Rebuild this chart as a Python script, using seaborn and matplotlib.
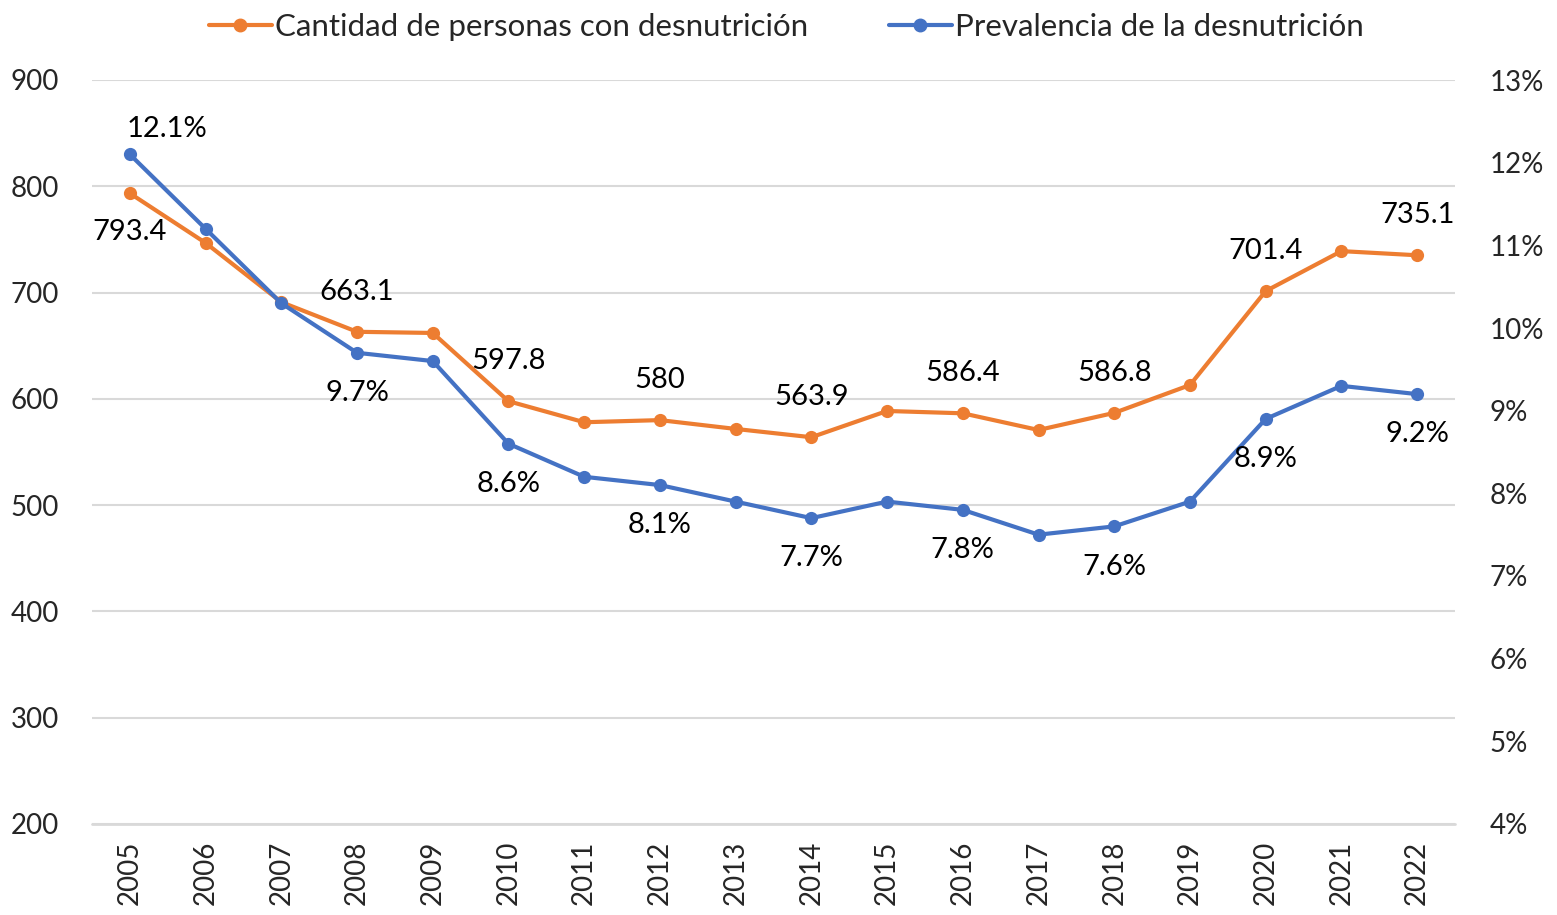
import pandas as pd
import numpy as np
import matplotlib.pyplot as plt
import seaborn as sns
from matplotlib.lines import Line2D

# Data
years = [str(y) for y in range(2005, 2023)]
personas = [793.4, 746.7, 691.0, 663.1, 662.0, 597.8, 578.0, 580.0, 571.7, 563.9,
            588.6, 586.4, 570.7, 586.8, 613.0, 701.4, 739.0, 735.1]
prevalencia = [12.1, 11.2, 10.3, 9.7, 9.6, 8.6, 8.2, 8.1, 7.9, 7.7,
               7.9, 7.8, 7.5, 7.6, 7.9, 8.9, 9.3, 9.2]
label_years = ['2005', '2008', '2010', '2012', '2014', '2016', '2018', '2020', '2022']

orange = '#ED7D31'
blue = '#4472C4'
grid_col = '#D9D9D9'

sns.set_style('white')
plt.rcParams['font.family'] = ['Lato', 'DejaVu Sans']

df = pd.DataFrame({'x': np.arange(len(years)), 'year': years,
                   'personas': personas, 'prevalencia': prevalencia})

fig = plt.figure(figsize=(15.57, 9.15), dpi=100)
ax = fig.add_axes([92 / 1557, 1 - 824 / 915, (1455 - 92) / 1557, (824 - 80) / 915])
ax2 = ax.twinx()

sns.lineplot(data=df, x='x', y='personas', ax=ax, color=orange, linewidth=3,
             marker='o', markersize=9.5, markeredgewidth=0)
sns.lineplot(data=df, x='x', y='prevalencia', ax=ax2, color=blue, linewidth=3,
             marker='o', markersize=9.5, markeredgewidth=0)

ax.set_ylim(200, 900)
ax.set_yticks(range(200, 1000, 100))
ax2.set_ylim(4, 13)
ax2.set_yticks(range(4, 14))
ax2.set_yticklabels([f'{v}%' for v in range(4, 14)])
ax.set_xlim(-0.5, len(years) - 0.5)
ax.set_xticks(df['x'])
ax.set_xticklabels(years, rotation=90)
ax.set_xticks(np.arange(-0.5, len(years)), minor=True)

ax.grid(axis='y', color=grid_col, linewidth=1.5)
ax.set_axisbelow(True)
for a in (ax, ax2):
    for s in ('top', 'left', 'right', 'bottom'):
        a.spines[s].set_visible(False)
    a.set_xlabel('')
    a.set_ylabel('')
ax.axhline(200, color=grid_col, linewidth=2, zorder=1, clip_on=False)

ax.tick_params(axis='x', which='major', length=0, labelsize=20, pad=12)
ax.tick_params(axis='x', which='minor', length=8, width=1.5, color=grid_col)
ax.tick_params(axis='y', length=0, labelsize=20, pad=24)
ax2.tick_params(axis='y', length=0, labelsize=20, pad=25)

# Data labels
for _, r in df.iterrows():
    if r['year'] not in label_years:
        continue
    val = r['personas']
    dy = -28 if r['year'] == '2005' else 29
    ax.annotate(f'{val:g}', (r['x'], val), xytext=(0, dy), textcoords='offset points',
                ha='center', va='center', fontsize=21, color='black')
    p = r['prevalencia']
    dx2, dy2 = (27, 18) if r['year'] == '2005' else (0, -29)
    ax2.annotate(f'{p:.1f}%', (r['x'], p), xytext=(dx2, dy2), textcoords='offset points',
                 ha='center', va='center', fontsize=21, color='black')

handles = [Line2D([], [], color=orange, linewidth=3, marker='o', markersize=9),
           Line2D([], [], color=blue, linewidth=3, marker='o', markersize=9)]
fig.legend(handles, ['Cantidad de personas con desnutrición', 'Prevalencia de la desnutrición'],
           loc='upper center', bbox_to_anchor=(0.505, 1.017), ncol=2, frameon=False,
           fontsize=22.5, handlelength=2.0, handletextpad=0.1, columnspacing=2.6)

fig.savefig('out.png', dpi=100)
